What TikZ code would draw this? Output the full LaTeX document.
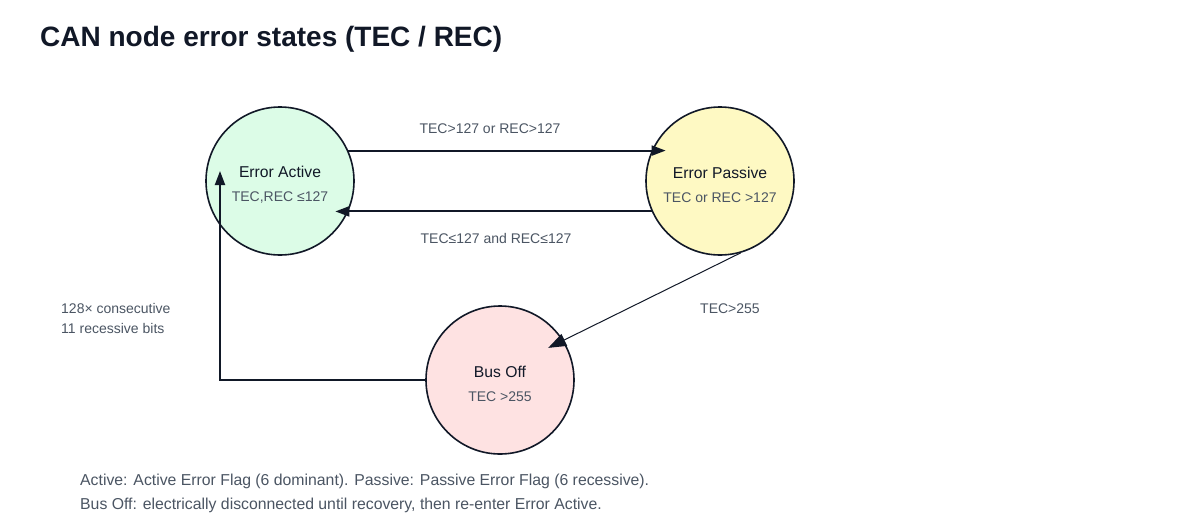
\documentclass[tikz,border=0pt]{standalone}
\usepackage{fontspec}
\setmainfont{Liberation Sans}
\usetikzlibrary{arrows.meta}

\definecolor{ink}{HTML}{111827}
\definecolor{labelgrey}{HTML}{4B5563}
\definecolor{activefill}{HTML}{DCFCE7}
\definecolor{passivefill}{HTML}{FEF9C3}
\definecolor{busofffill}{HTML}{FEE2E2}

\tikzset{
  state/.style={circle, draw=ink, line width=1.6pt, minimum size=148pt, inner sep=0pt,
    align=center, text=ink, font=\fontsize{14}{24.7}\selectfont},
  trans/.style={-{Triangle[length=14pt,width=10pt]}, draw=ink, line width=2pt},
  cond/.style={text=labelgrey, inner sep=0pt, font=\fontsize{14}{20}\selectfont},
}
% state name line, with some room above it
\newcommand{\statename}[1]{{\fontsize{15.7}{24.7}\selectfont\rule{0pt}{19pt}#1}}

\begin{document}
\begin{tikzpicture}[x=1pt,y=1pt]
        \fill[white] (0,0) rectangle (1200,-520);
        \useasboundingbox (0,0) rectangle (1200,-520);

        % Title
        \node[anchor=base west, inner sep=0pt, text=ink, font=\bfseries\fontsize{28}{32}\selectfont]
          (title) at (40,-46) {CAN node error states (TEC / REC)};

        % States
        \node[state, fill=activefill] (active) at (280,-181)
          {\statename{Error Active}\\\textcolor{labelgrey}{TEC,REC ≤127}};
        \node[state, fill=passivefill] (passive) at (720,-181)
          {\statename{Error Passive}\\\textcolor{labelgrey}{TEC or REC >127}};
        \node[state, fill=busofffill] (busoff) at (500,-380)
          {\statename{Bus Off}\\\textcolor{labelgrey}{TEC >255}};

        % Transitions
        \draw[trans, shorten >=-14pt] (active.24) -- (passive.156);
        \draw[trans, shorten >=-13pt] (passive.204) -- (active.-24);
        \draw[trans, line width=1pt, -{Triangle[length=18pt,width=13pt]}, shorten >=-17pt]
          (passive.-74) -- (busoff.32);
        \draw[trans] (busoff.west) -| ([xshift=-60pt,yshift=10pt]active.center);

        % Transition conditions
        \node[cond, anchor=base] (upcond) at (490,-133) {TEC>127 or REC>127};
        \node[cond, anchor=base] (downcond) at (496,-243) {TEC≤127 and REC≤127};
        \node[cond, anchor=base] (offcond) at (730,-313) {TEC>255};
        \node[cond, anchor=west, align=left] (recovercond) at (61,-318)
          {128× consecutive\\11 recessive bits};

        % Notes
        \node[anchor=west, inner sep=0pt, align=left, text=labelgrey,
          font=\fontsize{15.8}{24.7}\selectfont] (notes) at (80,-493.5)
          {Active: Active Error Flag (6 dominant). Passive: Passive Error Flag (6 recessive).\\
           Bus Off: electrically disconnected until recovery, then re-enter Error Active.};
    \end{tikzpicture}
\end{document}
